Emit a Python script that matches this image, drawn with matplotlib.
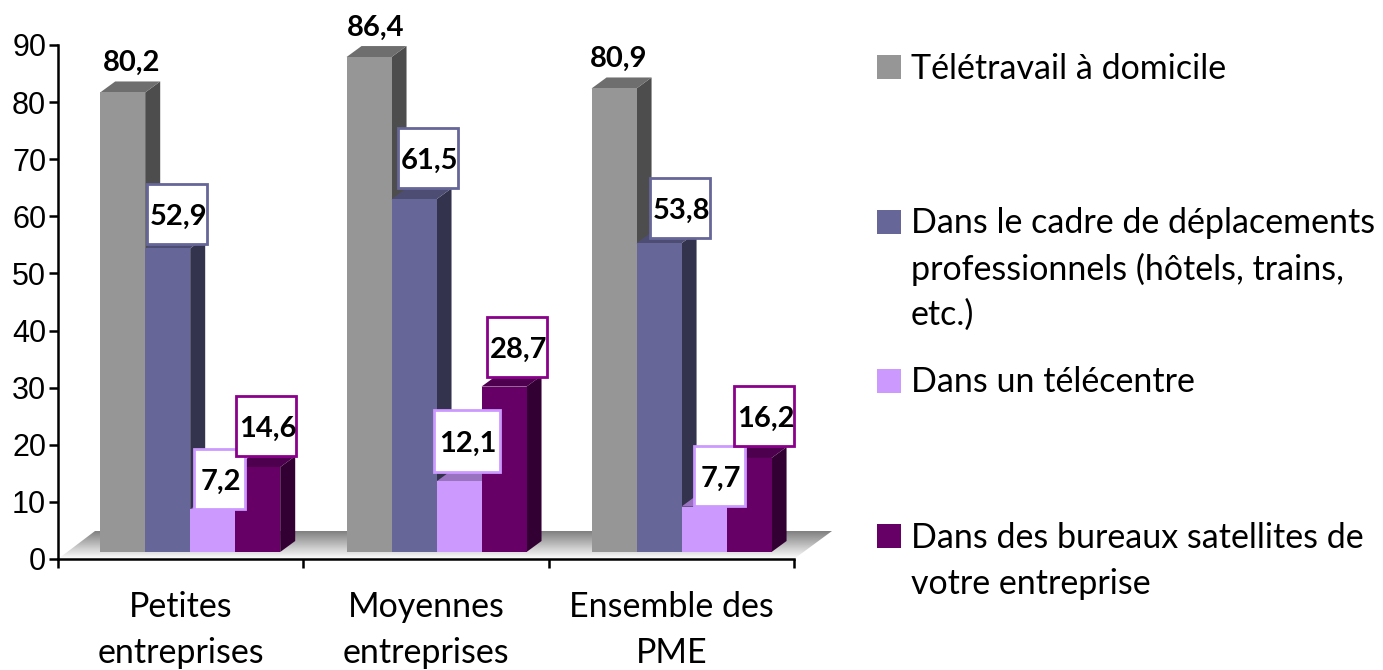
"""Faux-3D grouped bars: lieux de télétravail par taille d'entreprise."""
import matplotlib
matplotlib.use('Agg')
import matplotlib.pyplot as plt
from matplotlib.patches import Polygon, Rectangle
import numpy as np

categories = ['Petites\nentreprises', 'Moyennes\nentreprises', 'Ensemble des\nPME']
teletravail = [80.2, 86.4, 80.9]
deplacements = [52.9, 61.5, 53.8]
telecentre = [7.2, 12.1, 7.7]
bureaux = [14.6, 28.7, 16.2]
series_names = [
    'Télétravail à domicile',
    'Dans le cadre de déplacements\nprofessionnels (hôtels, trains,\netc.)',
    'Dans un télécentre',
    'Dans des bureaux satellites de\nvotre entreprise',
]
y_ticks = list(range(0, 100, 10))

W, H = 1383, 670
AX_LEFT, AX_RIGHT, AX_TOP, AX_BOTTOM = 58, 794, 45, 559
FRONT = ['#969696', '#666699', '#cc99ff', '#660066']
SIDE = ['#4d4d4d', '#33334d', '#664d80', '#330033']
TOP = ['#6e6e6e', '#4d4d73', '#9973bf', '#4d004d']
EDGE = [None, '#666699', '#cc99ff', '#8b008b']
LABEL_FONT = 'Lato'

fig = plt.figure(figsize=(W / 100, H / 100), dpi=100)
ax = fig.add_axes([AX_LEFT / W, 1 - AX_BOTTOM / H,
                   (AX_RIGHT - AX_LEFT) / W, (AX_BOTTOM - AX_TOP) / H])
ax.set_xlim(0, 3)
ax.set_ylim(0, 90)

# pixel sizes expressed in data units
px_x = 3 / (AX_RIGHT - AX_LEFT)
px_y = 90 / (AX_BOTTOM - AX_TOP)
depth_x, depth_y = 15 * px_x, 11 * px_y
base = 7 * px_y
lift = 1.5 * px_y
bar_w = 45 * px_x
group_start = 0.172
group_shift = [0, 1.0, 0.7]

# floor with vertical gradient, dark at the back
floor = [(0, 0), (37 * px_x, 28 * px_y), (3 + 38 * px_x, 28 * px_y), (3, 0)]
grad = np.linspace(0.5, 1.0, 64).reshape(-1, 1)
im = ax.imshow(grad, cmap='gray', vmin=0, vmax=1, aspect='auto', zorder=1,
               extent=(0, 3 + 38 * px_x, 0, 28 * px_y))
clip = Polygon(floor, closed=True, transform=ax.transData, fill=False, edgecolor='none')
ax.add_patch(clip)
clip.set_clip_on(False)
im.set_clip_box(fig.bbox)
im.set_clip_path(clip)
ax.set_xlim(0, 3)
ax.set_ylim(0, 90)

all_series = [teletravail, deplacements, telecentre, bureaux]
for g in range(len(categories)):
    for s, vals in enumerate(all_series):
        v = vals[g] + lift
        x0 = g + group_start + group_shift[g] * px_x + s * bar_w
        x1 = x0 + bar_w
        y1 = base + v
        ax.bar(x0, v, width=bar_w, bottom=base, align='edge', color=FRONT[s], zorder=3 + s * 3)
        ax.add_patch(Polygon([(x1, base), (x1 + depth_x, base + depth_y),
                              (x1 + depth_x, y1 + depth_y), (x1, y1)],
                             facecolor=SIDE[s], edgecolor='none', zorder=2 + s * 3, clip_on=False))
        ax.add_patch(Polygon([(x0, y1), (x0 + depth_x, y1 + depth_y),
                              (x1 + depth_x, y1 + depth_y), (x1, y1)],
                             facecolor=TOP[s], edgecolor='none', zorder=2 + s * 3, clip_on=False))

# value labels, boxed except for the first series; offsets in pixels, [series][group]
LABEL_DX = {1: [9.3, 14, 20.5], 2: [6.8, 7.7, 15.5], 3: [8.3, 13, 15]}
LABEL_UP = {1: [4.4, 11.3, 5.2], 2: [0.4, 9.4, 0.5], 3: [11, 9.6, 12]}
for g in range(len(categories)):
    for s, vals in enumerate(all_series):
        v = vals[g]
        txt = f'{v:.1f}'.replace('.', ',')
        cx = g + group_start + group_shift[g] * px_x + (s + 0.5) * bar_w
        y1 = base + v + lift
        if s == 0:
            ax.text(cx + (9 - 2 * g) * px_x, y1 + 29.5 * px_y, txt, ha='center', va='center',
                    fontsize=21, fontweight='bold', family=LABEL_FONT, zorder=30)
            continue
        cx += LABEL_DX[s][g] * px_x
        box_w = 51 if len(txt) == 3 else (66 if s == 2 else 60)
        box_h = 62 if box_w == 66 else 60
        bottom = y1 + LABEL_UP[s][g] * px_y
        ax.add_patch(Rectangle((cx - box_w / 2 * px_x, bottom), box_w * px_x, box_h * px_y,
                               facecolor='white', edgecolor=EDGE[s], linewidth=2,
                               zorder=30, clip_on=False))
        ax.text(cx + 1.5 * px_x, bottom + (box_h / 2 - 3) * px_y, txt, ha='center', va='center',
                fontsize=21, fontweight='bold', family=LABEL_FONT, zorder=31)

# axes
for side in ['top', 'right']:
    ax.spines[side].set_visible(False)
for side in ['left', 'bottom']:
    ax.spines[side].set_linewidth(1.8)
    ax.spines[side].set_zorder(40)
ax.set_yticks(y_ticks)
ax.set_xticks([0, 1, 2, 3])
ax.set_xticklabels([])
ax.tick_params(axis='both', length=6.5, width=1.8)
ax.tick_params(axis='y', pad=2, labelsize=22)
for lab in ax.get_yticklabels():
    lab.set_family('Liberation Sans')

for g, cat in enumerate(categories):
    fig.text((180.5 + 245.5 * g) / W, 1 - 630 / H, cat, ha='center', va='center',
             fontsize=24.5, family=LABEL_FONT, linespacing=1.52)

# hand placed legend
legend_y = [67, 222, 381, 536]
text_y = [69, 269, 382, 561]
for s, name in enumerate(series_names):
    fig.add_artist(Rectangle((877 / W, 1 - (legend_y[s] + 12) / H), 24 / W, 24 / H,
                             facecolor=FRONT[s], edgecolor='none',
                             transform=fig.transFigure))
    fig.text(911 / W, 1 - text_y[s] / H, name, ha='left', va='center',
             fontsize=24.5, family=LABEL_FONT, linespacing=1.5)

fig.savefig('out.png', dpi=100)
